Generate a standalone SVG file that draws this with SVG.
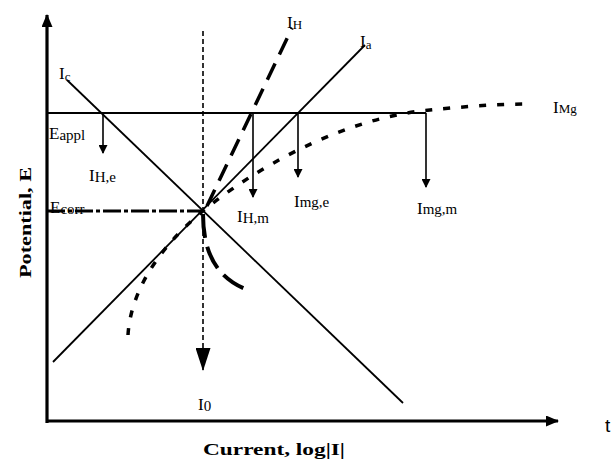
<svg xmlns="http://www.w3.org/2000/svg" width="615" height="461" viewBox="0 0 615 461">
<style>
.lbl{font-family:"Liberation Serif","Times New Roman",serif;fill:#000}
.big{font-size:17px}
.sub{font-size:15px}
.sm{font-size:13px}
.ax{font-family:"Liberation Serif","Times New Roman",serif;font-weight:bold;font-size:17px;fill:#000}
.solid{stroke:#000;fill:none}
</style>
<defs>
<marker id="ah" markerUnits="userSpaceOnUse" markerWidth="9" markerHeight="9" refX="8" refY="4.5" orient="auto">
<path d="M0,0 L9,4.5 L0,9 z" fill="#000"/>
</marker>
<marker id="ahBig" markerUnits="userSpaceOnUse" markerWidth="23" markerHeight="15" refX="22" refY="7.5" orient="auto">
<path d="M0,0 L23,7.5 L0,15 z" fill="#000"/>
</marker>
<marker id="ahAx" markerUnits="userSpaceOnUse" markerWidth="13" markerHeight="11" refX="12" refY="5.5" orient="auto">
<path d="M0,0 L13,5.5 L0,11 z" fill="#000"/>
</marker>
</defs>
<rect width="615" height="461" fill="#fff"/>

<g id="axes">
<line x1="47" y1="423" x2="47" y2="15" class="solid" stroke-width="3.2" marker-end="url(#ahAx)"/>
<line x1="46" y1="421" x2="558" y2="421" class="solid" stroke-width="3" marker-end="url(#ahAx)"/>
<text class="ax" transform="translate(31,278) rotate(-90)" textLength="111" lengthAdjust="spacingAndGlyphs">Potential, E</text>
<text class="ax" x="203" y="455" textLength="142" lengthAdjust="spacingAndGlyphs">Current, log|I|</text>
<text x="605" y="432" font-family="Liberation Sans, Arial, sans-serif" font-size="19" fill="#000">t</text>
</g>

<g id="connectors">
<line x1="47" y1="113" x2="426" y2="113" class="solid" stroke-width="2"/>
<line x1="67" y1="80" x2="403" y2="403" class="solid" stroke-width="1.8"/>
<line x1="53" y1="362" x2="365" y2="45" class="solid" stroke-width="1.8"/>
<line x1="203" y1="31" x2="203" y2="370" class="solid" stroke-width="1.6" stroke-dasharray="5 3" marker-end="url(#ahBig)"/>
<line x1="207" y1="206" x2="292" y2="28" class="solid" stroke-width="3.5" stroke-dasharray="18 10"/>
<path d="M203,214 C203,250 215,278 248,290" class="solid" stroke-width="4" stroke-dasharray="24 9"/>
<line x1="47" y1="211" x2="202" y2="211" class="solid" stroke-width="3" stroke-dasharray="18 3 4 3"/>
<path d="M128,335 C130,300 150,255 203,211 C250,172 340,118 430,110 C460,107 495,104 527,104" class="solid" stroke-width="3.5" stroke-dasharray="7 11"/>
<line x1="103" y1="113" x2="103" y2="153" class="solid" stroke-width="1.6" marker-end="url(#ah)"/>
<line x1="253" y1="113" x2="253" y2="197" class="solid" stroke-width="1.6" marker-end="url(#ah)"/>
<line x1="298" y1="113" x2="298" y2="177" class="solid" stroke-width="1.6" marker-end="url(#ah)"/>
<line x1="426" y1="113" x2="426" y2="187" class="solid" stroke-width="1.6" marker-end="url(#ah)"/>
</g>

<g id="labels">
<g id="lbl-Ic"><text class="lbl" x="59" y="79"><tspan class="big">I</tspan><tspan class="sm" dy="2">c</tspan></text></g>
<g id="lbl-IH"><text class="lbl" x="287" y="28"><tspan class="big">I</tspan><tspan class="sm" dy="1">H</tspan></text></g>
<g id="lbl-Ia"><text class="lbl" x="360" y="47"><tspan class="big">I</tspan><tspan class="sm" dy="2">a</tspan></text></g>
<g id="lbl-IMg"><text class="lbl" x="553" y="113"><tspan class="big">I</tspan><tspan class="sm">Mg</tspan></text></g>
<g id="lbl-Eappl"><text class="lbl" x="49" y="139"><tspan class="big">E</tspan><tspan class="sub" dy="1">appl</tspan></text></g>
<g id="lbl-Ecorr"><text class="lbl" x="50" y="213"><tspan class="big">E</tspan><tspan class="sub" dy="1">corr</tspan></text></g>
<g id="lbl-IHe"><text class="lbl" x="89" y="181"><tspan class="big">I</tspan><tspan class="sub" dy="1">H,e</tspan></text></g>
<g id="lbl-IHm"><text class="lbl" x="237" y="222"><tspan class="big">I</tspan><tspan class="sub" dy="1">H,m</tspan></text></g>
<g id="lbl-Imge"><text class="lbl" x="294" y="207"><tspan class="big">I</tspan><tspan class="sub">mg,e</tspan></text></g>
<g id="lbl-Imgm"><text class="lbl" x="417" y="214"><tspan class="big">I</tspan><tspan class="sub">mg,m</tspan></text></g>
<g id="lbl-I0"><text class="lbl" x="198" y="410"><tspan class="big">I</tspan><tspan class="sub" dy="1">0</tspan></text></g>
</g>
</svg>
